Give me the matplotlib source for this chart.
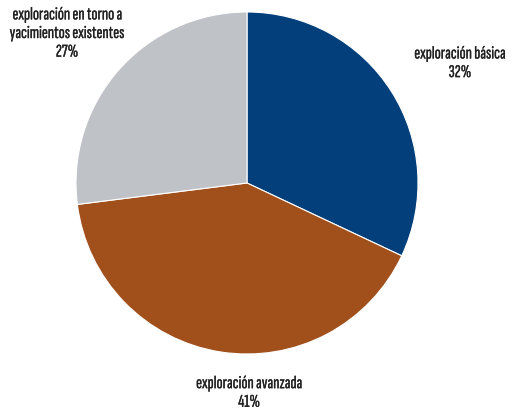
import matplotlib.pyplot as plt
import matplotlib.patheffects as pe

# Distribución del gasto en exploración
categorias = ['exploración básica', 'exploración avanzada',
              'exploración en torno a\nyacimientos existentes']
porcentajes = [32, 41, 27]
colores = ['#033F7A', '#A1501C', '#BFC2C7']

plt.rcParams['font.family'] = ['Sofia Sans Extra Condensed', 'DejaVu Sans']

fig = plt.figure(figsize=(5.16, 4.09), dpi=100)
ax = fig.add_axes([76 / 516, 55 / 409, 342 / 516, 342 / 409])

wedges, textos = ax.pie(porcentajes, colors=colores, startangle=90,
                        counterclock=False, radius=1,
                        labels=[f'{c}\n{p}%' for c, p in zip(categorias, porcentajes)],
                        wedgeprops={'linewidth': 0.8, 'edgecolor': 'white'},
                        textprops={'fontsize': 13, 'color': '#222222',
                                   'ha': 'center', 'va': 'center',
                                   'multialignment': 'center'})

# posiciones de las etiquetas
posiciones = [(1.245, 0.70), (0.012, -1.228), (-1.053, 0.874)]
for t, pos in zip(textos, posiciones):
    t.set_position(pos)
    t.set_ha('center')
    t.set_va('center')
    t.set_linespacing(1.3)
    t.set_path_effects([pe.withStroke(linewidth=0.2, foreground='#222222')])

ax.set_xlim(-1, 1)
ax.set_ylim(-1, 1)
ax.set_aspect('equal')

fig.savefig('out.png', dpi=100)
